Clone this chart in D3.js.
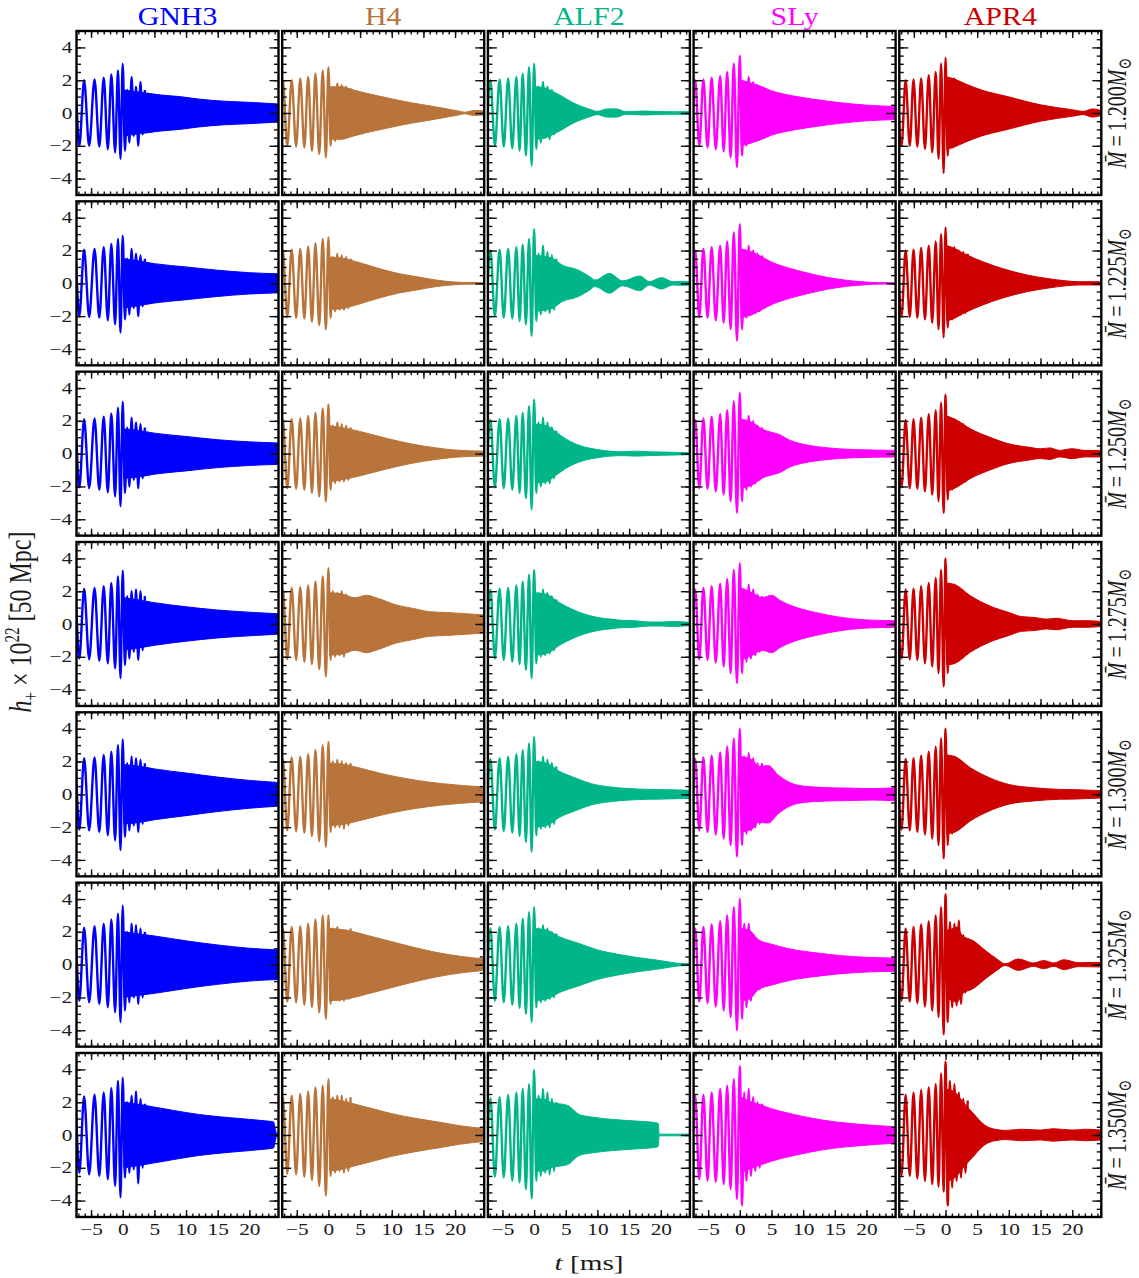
<!DOCTYPE html>
<html>
<head>
<meta charset="utf-8">
<script src="https://cdn.jsdelivr.net/npm/d3@7"></script>
<style>
  body { margin: 0; background: #fff; }
  svg { display: block; }
</style>
</head>
<body>
<svg id="chart" width="1139" height="1278"></svg>
<script>
// ---- Equations of state (columns) and binary masses (rows) ----
const eosNames  = ["GNH3", "H4", "ALF2", "SLy", "APR4"];
const eosColors = ["#0000ff", "#b8743a", "#00b688", "#ff00ff", "#cc0000"];
const massLabels = ["1.200", "1.225", "1.250", "1.275", "1.300", "1.325", "1.350"];

// Axis ticks
const xMajorTicks = [-5, 0, 5, 10, 15, 20];
const yMajorTicks = [-4, -2, 0, 2, 4];

// Post-merger spike times shared by every panel (ms after merger)
const spikeTimes = [0.35, 0.7, 1.05, 1.4, 1.75, 2.1, 2.45, 2.8, 3.15, 3.5];

// ---- GNH3 ----
const gnh3Times = [-8.3, -7.6, -6.85, -6.1, -5.3, -4.45, -3.7, -3.0, -2.35, -1.8, -1.2, -0.75, -0.35, 0];
const gnh3Inspiral = [
  [-2.0, 2.0, -2.0, 2.0, -2.0, 2.05, -2.05, 2.15, -2.2, 2.35, -2.4, 2.6, -2.8, 3.0],
  [-2.0, 2.0, -2.0, 2.05, -2.05, 2.1, -2.1, 2.2, -2.25, 2.4, -2.5, 2.7, -3.0, 2.9],
  [-2.05, 2.05, -2.05, 2.1, -2.1, 2.15, -2.2, 2.25, -2.35, 2.45, -2.6, 2.8, -3.2, 3.15],
  [-2.1, 2.1, -2.1, 2.15, -2.15, 2.2, -2.25, 2.3, -2.4, 2.5, -2.7, 2.9, -3.3, 3.25],
  [-2.15, 2.15, -2.15, 2.2, -2.2, 2.25, -2.3, 2.4, -2.5, 2.6, -2.8, 3.0, -3.4, 3.35],
  [-2.2, 2.2, -2.2, 2.25, -2.3, 2.35, -2.4, 2.5, -2.6, 2.75, -2.9, 3.1, -3.5, 3.6],
  [-2.3, 2.3, -2.3, 2.35, -2.4, 2.45, -2.5, 2.6, -2.7, 2.85, -3.1, 3.3, -3.8, 3.5]
];
const gnh3Spikes = [
  [-2.3, 1.4, -1.8, 2.2, -1.4, 1.6, -2.0, 1.9, -1.3, 1.4],
  [-2.2, 1.5, -1.9, 2.1, -1.5, 1.8, -2.0, 1.7, -1.4, 1.5],
  [-2.4, 1.6, -2.0, 2.2, -1.6, 1.9, -2.1, 1.8, -1.5, 1.6],
  [-2.5, 1.7, -2.1, 2.0, -1.7, 2.1, -2.2, 2.0, -1.6, 1.7],
  [-2.6, 1.9, -2.2, 2.3, -1.9, 2.2, -2.3, 2.1, -1.8, 1.9],
  [-2.8, 2.0, -2.3, 2.5, -2.0, 2.4, -2.4, 2.2, -2.0, 2.0],
  [-2.6, 2.0, -2.3, 2.4, -2.1, 2.65, -2.95, 2.2, -2.0, 1.9]
];
const gnh3Envelope = [
  [[0.2, 1.4], [2, 1.3], [4, 1.2], [6, 1.1], [9, 1.0], [12, 0.85], [16, 0.72], [20, 0.65], [24.6, 0.55]],
  [[0.2, 1.5], [2, 1.4], [5, 1.2], [10, 1.0], [15, 0.8], [20, 0.65], [24.6, 0.58]],
  [[0.2, 1.5], [2, 1.45], [5, 1.25], [10, 1.05], [15, 0.85], [20, 0.72], [24.6, 0.65]],
  [[0.2, 1.6], [2, 1.5], [5, 1.3], [10, 1.05], [15, 0.85], [20, 0.72], [24.6, 0.62]],
  [[0.2, 1.8], [2, 1.75], [5, 1.55], [10, 1.3], [15, 1.05], [20, 0.85], [24.6, 0.72]],
  [[0.2, 2.0], [2, 1.9], [5, 1.75], [10, 1.45], [15, 1.2], [20, 1.0], [24.6, 0.9]],
  [[0.2, 2.0], [2, 1.9], [5, 1.7], [8, 1.5], [12, 1.25], [17, 1.05], [22.8, 0.85], [23.8, 0.8], [24.3, 0.1], [24.6, 0.05]]
];

// ---- H4 ----
const h4Times = [-7.85, -7.2, -6.5, -5.8, -5.1, -4.45, -3.8, -3.2, -2.6, -2.05, -1.45, -0.9, -0.4, 0];
const h4Inspiral = [
  [-2.0, 2.0, -2.0, 2.0, -2.05, 2.1, -2.1, 2.2, -2.3, 2.4, -2.5, 2.6, -2.7, 2.8],
  [-2.0, 2.0, -2.05, 2.05, -2.1, 2.1, -2.15, 2.25, -2.35, 2.45, -2.55, 2.7, -2.8, 2.8],
  [-2.05, 2.05, -2.1, 2.1, -2.15, 2.15, -2.2, 2.3, -2.4, 2.5, -2.6, 2.75, -2.9, 3.0],
  [-2.1, 2.1, -2.15, 2.2, -2.2, 2.25, -2.3, 2.35, -2.45, 2.6, -2.75, 2.9, -3.2, 3.4],
  [-2.15, 2.15, -2.2, 2.25, -2.25, 2.3, -2.35, 2.45, -2.55, 2.7, -2.85, 3.0, -3.2, 3.2],
  [-2.2, 2.2, -2.25, 2.3, -2.3, 2.35, -2.45, 2.5, -2.6, 2.75, -2.9, 3.0, -3.3, 3.0],
  [-2.3, 2.3, -2.35, 2.4, -2.4, 2.5, -2.55, 2.65, -2.75, 2.9, -3.1, 3.0, -3.7, 3.4]
];
const h4Spikes = [
  [-2.0, 1.5, -1.7, 1.8, -1.6, 1.7, -1.5, 1.6, -1.4, 1.5],
  [-2.1, 1.6, -1.7, 1.8, -1.6, 1.7, -1.6, 1.6, -1.5, 1.5],
  [-2.2, 1.7, -1.8, 1.9, -1.7, 1.8, -1.7, 1.7, -1.6, 1.6],
  [-2.2, 2.0, -2.0, 1.9, -1.9, 2.0, -2.0, 1.8, -1.7, 1.6],
  [-2.3, 2.0, -2.0, 2.1, -2.0, 2.0, -2.1, 1.9, -1.9, 1.9],
  [-2.4, 2.2, -2.1, 2.3, -2.2, 2.1, -2.2, 2.1, -2.1, 2.2],
  [-2.5, 2.3, -2.3, 2.4, -2.2, 2.4, -2.3, 2.2, -2.2, 2.3]
];
const h4Envelope = [
  [[0.2, 1.6], [2, 1.6], [4, 1.4], [6, 1.2], [9, 0.95], [12, 0.7], [15, 0.5], [18, 0.3], [20.5, 0.12], [21.5, 0.05], [23, 0.15], [24.6, 0.12]],
  [[0.2, 1.6], [2, 1.55], [5, 1.25], [8, 0.9], [11, 0.6], [14, 0.4], [17, 0.2], [20, 0.08], [22, 0.05], [24.6, 0.05]],
  [[0.2, 1.7], [2, 1.6], [5, 1.35], [9, 0.95], [13, 0.6], [17, 0.35], [20, 0.22], [24.6, 0.15]],
  [[0.2, 1.9], [2, 1.85], [4.2, 1.6], [6, 1.75], [7.9, 1.55], [10.8, 1.15], [13.4, 0.95], [16, 0.75], [18.7, 0.7], [24.6, 0.55]],
  [[0.2, 1.9], [2, 1.85], [5, 1.6], [8, 1.3], [11, 1.05], [14, 0.85], [18, 0.65], [24.6, 0.45]],
  [[0.2, 2.2], [2, 2.15], [4, 2.0], [6, 1.8], [9, 1.5], [13, 1.1], [17, 0.75], [21, 0.5], [24.6, 0.35]],
  [[0.2, 2.2], [2, 2.1], [4, 1.9], [7, 1.6], [10, 1.3], [14, 1.0], [18, 0.75], [21, 0.55], [24.6, 0.4]]
];

// ---- ALF2 ----
const alf2Times = [-7.55, -6.9, -6.2, -5.45, -4.8, -4.1, -3.45, -2.8, -2.3, -1.8, -1.3, -0.8, -0.4, 0];
const alf2Inspiral = [
  [-2.0, 2.0, -2.0, 2.05, -2.05, 2.1, -2.15, 2.2, -2.3, 2.4, -2.6, 2.8, -3.2, 3.0],
  [-2.0, 2.0, -2.0, 2.05, -2.1, 2.1, -2.15, 2.2, -2.3, 2.35, -2.5, 2.7, -3.2, 3.3],
  [-2.05, 2.05, -2.05, 2.1, -2.1, 2.15, -2.2, 2.3, -2.4, 2.5, -2.7, 2.9, -3.4, 3.3],
  [-2.1, 2.1, -2.1, 2.15, -2.2, 2.2, -2.3, 2.35, -2.45, 2.6, -2.8, 3.0, -3.3, 3.3],
  [-2.15, 2.15, -2.15, 2.2, -2.25, 2.3, -2.35, 2.45, -2.55, 2.7, -2.9, 3.1, -3.5, 3.5],
  [-2.2, 2.2, -2.2, 2.3, -2.3, 2.35, -2.45, 2.5, -2.65, 2.8, -3.0, 3.2, -3.5, 3.5],
  [-2.5, 2.25, -2.55, 2.3, -2.6, 2.45, -2.8, 2.6, -2.9, 2.8, -3.3, 3.1, -3.85, 3.95]
];
const alf2Spikes = [
  [-2.2, 1.6, -1.8, 1.9, -1.5, 1.6, -1.6, 1.4, -1.3, 1.2],
  [-2.3, 1.8, -1.9, 2.3, -1.7, 1.9, -1.8, 1.7, -1.6, 1.5],
  [-2.4, 1.9, -2.0, 2.2, -1.8, 1.9, -1.8, 1.6, -1.5, 1.4],
  [-2.4, 1.9, -2.0, 2.1, -1.9, 1.9, -1.8, 1.7, -1.6, 1.5],
  [-2.5, 2.0, -2.1, 2.3, -2.0, 2.1, -2.0, 1.9, -1.8, 1.7],
  [-2.6, 2.2, -2.3, 2.4, -2.2, 2.2, -2.1, 2.0, -2.0, 1.9],
  [-2.8, 2.4, -2.5, 2.8, -2.3, 2.6, -2.4, 2.2, -2.2, 2.0]
];
const alf2Envelope = [
  [[0.2, 1.6], [1.5, 1.55], [3, 1.3], [4.5, 1.0], [6, 0.65], [7.5, 0.4], [9, 0.2], [10, 0.1], [11.5, 0.25], [13, 0.25], [14.5, 0.08], [16, 0.1], [17.5, 0.12], [19, 0.1], [21, 0.08], [24.6, 0.08]],
  [[0.2, 1.7], [1.5, 1.65], [3, 1.5], [4.5, 1.1], [6.7, 0.85], [8.8, 0.4], [9.6, 0.2], [11.9, 0.6], [14, 0.15], [16.7, 0.45], [18.2, 0.1], [20.1, 0.35], [21.9, 0.1], [23.5, 0.12], [24.6, 0.1]],
  [[0.2, 1.8], [2, 1.7], [3.5, 1.3], [5, 0.9], [6.5, 0.6], [8, 0.4], [10, 0.25], [12, 0.15], [14, 0.12], [16, 0.15], [18, 0.12], [20, 0.1], [24.6, 0.06]],
  [[0.2, 1.9], [2, 1.8], [4, 1.3], [6, 0.9], [8, 0.6], [10, 0.4], [12, 0.3], [14, 0.22], [16, 0.2], [18, 0.12], [20, 0.12], [22, 0.15], [24.6, 0.1]],
  [[0.2, 2.0], [2, 1.9], [4, 1.4], [6.5, 1.0], [9, 0.65], [12, 0.45], [15, 0.35], [18, 0.3], [21, 0.28], [24.6, 0.25]],
  [[0.2, 2.2], [2, 2.1], [4, 1.7], [7, 1.3], [10, 0.9], [13, 0.65], [16, 0.45], [19, 0.3], [21.5, 0.15], [23, 0.07], [24.6, 0.05]],
  [[0.2, 2.2], [1.5, 2.2], [2.6, 2.0], [5.3, 1.8], [7.1, 1.25], [9, 1.1], [12.4, 0.95], [16, 0.85], [19.2, 0.75], [19.6, 0.7], [19.75, 0.05], [24.6, 0.05]]
];

// ---- SLy ----
const slyTimes = [-7.7, -7.05, -6.4, -5.75, -5.1, -4.45, -3.8, -3.1, -2.55, -2.0, -1.45, -0.95, -0.45, 0];
const slyInspiral = [
  [-2.0, 2.0, -2.0, 2.05, -2.1, 2.15, -2.2, 2.25, -2.35, 2.5, -2.7, 3.0, -3.3, 3.5],
  [-2.0, 2.0, -2.05, 2.1, -2.1, 2.2, -2.25, 2.3, -2.4, 2.55, -2.8, 3.1, -3.5, 3.6],
  [-2.05, 2.05, -2.1, 2.15, -2.15, 2.25, -2.3, 2.4, -2.5, 2.65, -2.9, 3.2, -3.6, 3.7],
  [-2.1, 2.1, -2.15, 2.2, -2.2, 2.3, -2.35, 2.45, -2.6, 2.75, -3.0, 3.3, -3.6, 3.7],
  [-2.15, 2.15, -2.2, 2.25, -2.3, 2.35, -2.45, 2.55, -2.7, 2.9, -3.1, 3.4, -3.8, 4.0],
  [-2.2, 2.2, -2.25, 2.3, -2.35, 2.45, -2.55, 2.65, -2.8, 3.0, -3.2, 3.5, -4.0, 4.0],
  [-2.6, 2.4, -2.7, 2.45, -2.8, 2.6, -2.85, 2.8, -3.0, 3.0, -3.3, 3.4, -3.9, 4.2]
];
const slySpikes = [
  [-2.6, 1.8, -2.0, 2.2, -1.8, 1.9, -1.7, 1.7, -1.6, 1.6],
  [-2.8, 2.0, -2.1, 2.3, -1.9, 2.0, -1.8, 1.8, -1.7, 1.7],
  [-2.9, 2.0, -2.2, 2.3, -2.0, 2.0, -1.8, 1.7, -1.6, 1.6],
  [-3.0, 2.1, -2.3, 2.4, -2.1, 2.1, -1.9, 1.8, -1.7, 1.7],
  [-3.1, 2.3, -2.4, 2.5, -2.2, 2.2, -2.0, 1.9, -1.8, 1.9],
  [-3.3, 2.5, -2.6, 2.5, -2.2, 1.8, -1.6, 1.5, -1.5, 1.4],
  [-4.3, 2.6, -2.8, 2.8, -2.5, 2.3, -2.2, 2.0, -2.0, 1.9]
];
const slyEnvelope = [
  [[0.2, 2.0], [2, 1.8], [3.5, 1.6], [5, 1.35], [7, 1.15], [9, 1.0], [12, 0.82], [16, 0.62], [20, 0.48], [24.6, 0.4]],
  [[0.2, 2.1], [2, 1.9], [3.5, 1.6], [5, 1.3], [8, 0.9], [11, 0.6], [14, 0.35], [17, 0.18], [20, 0.08], [22, 0.04], [24.6, 0.04]],
  [[0.2, 2.1], [2, 1.9], [3.5, 1.5], [5, 1.3], [6, 1.2], [8, 0.8], [11, 0.5], [14, 0.35], [18, 0.25], [24.6, 0.2]],
  [[0.2, 2.2], [2, 1.9], [3.5, 1.6], [5, 1.75], [6.5, 1.4], [9, 1.0], [12, 0.7], [16, 0.4], [20, 0.25], [24.6, 0.2]],
  [[0.2, 2.3], [2, 2.1], [3, 1.7], [4.5, 1.75], [6, 1.2], [8, 0.7], [10, 0.5], [13, 0.42], [17, 0.38], [21, 0.35], [24.6, 0.4]],
  [[0.2, 2.2], [1.5, 2.1], [3, 1.5], [5, 1.25], [8, 0.95], [12, 0.72], [16, 0.55], [20, 0.45], [24.6, 0.4]],
  [[0.2, 2.3], [2, 2.0], [3.5, 1.8], [5, 1.6], [8, 1.3], [11, 1.05], [15, 0.8], [19, 0.65], [24.6, 0.5]]
];

// ---- APR4 ----
const apr4Times = [-7.6, -6.95, -6.3, -5.65, -5.05, -4.45, -3.85, -3.25, -2.65, -2.1, -1.55, -1.1, -0.7, -0.3, 0];
const apr4Inspiral = [
  [2.0, -2.0, 2.0, -2.0, 2.05, -2.05, 2.1, -2.2, 2.3, -2.4, 2.5, -2.8, 3.0, -3.65, 3.35],
  [2.0, -2.0, 2.0, -2.05, 2.05, -2.1, 2.15, -2.2, 2.3, -2.4, 2.55, -2.8, 3.0, -3.3, 3.4],
  [2.05, -2.05, 2.05, -2.1, 2.1, -2.15, 2.2, -2.3, 2.4, -2.5, 2.65, -2.9, 3.1, -3.6, 3.6],
  [2.1, -2.1, 2.1, -2.15, 2.15, -2.2, 2.3, -2.4, 2.5, -2.6, 2.8, -3.0, 3.3, -3.8, 4.0],
  [2.15, -2.15, 2.15, -2.2, 2.2, -2.3, 2.35, -2.45, 2.6, -2.7, 2.9, -3.1, 3.4, -3.9, 4.0],
  [2.2, -2.2, 2.2, -2.25, 2.3, -2.35, 2.45, -2.55, 2.65, -2.8, 3.0, -3.2, 3.5, -4.25, 4.3],
  [2.3, -2.45, 2.45, -2.5, 2.6, -2.65, 2.75, -2.8, 2.9, -3.0, 3.1, -3.15, 3.75, -3.45, 4.47]
];
const apr4Spikes = [
  [-2.6, 1.9, -2.1, 2.1, -1.9, 1.9, -1.8, 1.8, -1.7, 1.7],
  [-2.7, 2.0, -2.2, 2.2, -2.0, 2.0, -1.9, 1.9, -1.8, 1.8],
  [-2.8, 2.1, -2.2, 2.1, -2.0, 1.9, -1.8, 1.8, -1.7, 1.6],
  [-3.0, 2.4, -2.4, 2.4, -2.2, 2.0, -2.0, 1.9, -1.8, 1.7],
  [-3.1, 2.3, -2.4, 2.3, -2.2, 2.0, -1.9, 1.8, -1.7, 1.6],
  [-3.5, 2.6, -2.6, 2.5, -2.5, 2.7, -2.4, 1.8, -1.7, 1.6],
  [-4.3, 3.3, -3.2, 3.1, -2.8, 2.6, -2.6, 2.2, -2.3, 2.1]
];
const apr4Envelope = [
  [[0.2, 2.2], [1.2, 2.1], [3, 1.8], [5.7, 1.4], [9.8, 1.0], [15, 0.5], [20, 0.2], [21.8, 0.1], [23.2, 0.25], [24.6, 0.15]],
  [[0.2, 2.3], [1, 2.2], [3, 1.8], [6, 1.3], [9, 0.9], [13, 0.5], [16, 0.3], [19, 0.15], [21, 0.1], [24.6, 0.1]],
  [[0.2, 2.3], [1.5, 2.1], [4, 1.5], [7, 1.0], [10, 0.6], [13, 0.4], [15, 0.3], [16.5, 0.35], [18, 0.2], [20, 0.3], [22, 0.2], [24.6, 0.2]],
  [[0.2, 2.5], [1.5, 2.4], [4, 1.7], [7, 1.1], [10, 0.7], [12, 0.45], [14, 0.4], [16, 0.3], [17.5, 0.35], [20, 0.2], [22.5, 0.2], [24.6, 0.15]],
  [[0.2, 2.4], [1.5, 2.3], [4, 1.6], [7, 1.0], [10, 0.6], [14, 0.4], [18, 0.3], [21, 0.28], [24.6, 0.22]],
  [[0.2, 2.1], [1.2, 2.2], [1.8, 2.3], [2.6, 1.8], [4.4, 1.45], [6.5, 0.8], [8.1, 0.35], [9.4, 0.05], [11.5, 0.35], [13.9, 0.1], [15.5, 0.25], [17.1, 0.1], [18.7, 0.3], [21, 0.12], [24.6, 0.14]],
  [[0.2, 2.8], [1.5, 2.6], [2.8, 2.0], [4.3, 1.35], [6.2, 0.6], [7.8, 0.35], [9.5, 0.28], [12, 0.35], [15, 0.3], [17, 0.38], [20, 0.3], [22, 0.35], [24.6, 0.3]]
];

// Column table assembled from the arrays above
const eosSeries = [
  { times: gnh3Times, inspiral: gnh3Inspiral, spikes: gnh3Spikes, envelope: gnh3Envelope },
  { times: h4Times,   inspiral: h4Inspiral,   spikes: h4Spikes,   envelope: h4Envelope },
  { times: alf2Times, inspiral: alf2Inspiral, spikes: alf2Spikes, envelope: alf2Envelope },
  { times: slyTimes,  inspiral: slyInspiral,  spikes: slySpikes,  envelope: slyEnvelope },
  { times: apr4Times, inspiral: apr4Inspiral, spikes: apr4Spikes, envelope: apr4Envelope }
];

// ---- Layout ----
const layout = { left: 76.5, top: 31, w: 202, h: 164, stepX: 205.7, stepY: 170.33 };
const xDomain = [-7.3, 24.6];
const yDomain = [-5, 5];
const stretch = 1.33;            // horizontal widening of the serif lettering
const serif = "'Liberation Serif', 'DejaVu Serif', serif";
const inkColor = "#1a1a1a";

const svg = d3.select("#chart");
svg.append("rect").attr("width", 1139).attr("height", 1278).attr("fill", "#fff");
const defs = svg.append("defs");

const xMinorTicks = d3.range(-7, 25, 1);
const yMinorTicks = d3.range(-4.5, 5, 0.5);
const fmt = d3.format("d");

function drawAxis(parent, axis, transform, labelled) {
  const g = parent.append("g").attr("transform", transform).call(axis);
  g.select(".domain").remove();
  g.attr("font-size", null).attr("font-family", null);
  g.selectAll(".tick line").attr("stroke", "#111").attr("stroke-width", 1.4);
  if (!labelled) g.selectAll(".tick text").remove();
  return g;
}

eosNames.forEach((name, c) => {
  const series = eosSeries[c];
  const color = eosColors[c];
  const px = layout.left + c * layout.stepX;

  // column title
  svg.append("text")
    .attr("transform", `translate(${px + layout.w / 2},25) scale(1.15,1)`)
    .attr("text-anchor", "middle")
    .attr("font-family", serif)
    .attr("font-size", 26)
    .attr("fill", color)
    .text(name);

  massLabels.forEach((mass, r) => {
    const py = layout.top + r * layout.stepY;
    const x = d3.scaleLinear().domain(xDomain).range([px, px + layout.w]);
    const y = d3.scaleLinear().domain(yDomain).range([py + layout.h, py]);

    const clipId = `clip-${c}-${r}`;
    defs.append("clipPath").attr("id", clipId)
      .append("rect").attr("x", px).attr("y", py).attr("width", layout.w).attr("height", layout.h);

    const plot = svg.append("g").attr("clip-path", `url(#${clipId})`);

    // dense post-merger oscillation, drawn as its envelope
    const area = d3.area()
      .x(d => x(d[0]))
      .y0(d => y(-d[1]))
      .y1(d => y(d[1]))
      .curve(d3.curveMonotoneX);
    plot.append("path")
      .datum(series.envelope[r])
      .attr("d", area)
      .attr("fill", color)
      .attr("stroke", color)
      .attr("stroke-width", 1);

    // resolved inspiral cycles and the first post-merger spikes
    const pts = series.times.map((t, i) => [t, series.inspiral[r][i]])
      .concat(spikeTimes.map((t, i) => [t, series.spikes[r][i]]));
    const line = d3.line()
      .x(d => x(d[0]))
      .y(d => y(d[1]))
      .curve(d3.curveMonotoneX);
    plot.append("path")
      .datum(pts)
      .attr("d", line)
      .attr("fill", "none")
      .attr("stroke", color)
      .attr("stroke-width", 2.4)
      .attr("stroke-linejoin", "round");

    // ticks on all four sides, pointing inwards
    const axes = svg.append("g");
    const bottom = `translate(0,${py + layout.h})`, top = `translate(0,${py})`;
    const left = `translate(${px},0)`, right = `translate(${px + layout.w},0)`;
    drawAxis(axes, d3.axisBottom(x).tickValues(xMinorTicks).tickSize(-3.5), bottom, false);
    drawAxis(axes, d3.axisTop(x).tickValues(xMinorTicks).tickSize(-3.5), top, false);
    drawAxis(axes, d3.axisLeft(y).tickValues(yMinorTicks).tickSize(-4.5), left, false);
    drawAxis(axes, d3.axisRight(y).tickValues(yMinorTicks).tickSize(-4.5), right, false);
    drawAxis(axes, d3.axisTop(x).tickValues(xMajorTicks).tickSize(-7), top, false);
    drawAxis(axes, d3.axisRight(y).tickValues(yMajorTicks).tickSize(-9), right, false);

    const xb = drawAxis(axes, d3.axisBottom(x).tickValues(xMajorTicks).tickSize(-7).tickPadding(7).tickFormat(fmt), bottom, r === massLabels.length - 1);
    xb.selectAll(".tick text")
      .attr("font-family", serif).attr("font-size", 16).attr("fill", inkColor)
      .attr("transform", `scale(${stretch},1)`);

    const yl = drawAxis(axes, d3.axisLeft(y).tickValues(yMajorTicks).tickSize(-9).tickPadding(3.2).tickFormat(fmt), left, c === 0);
    yl.selectAll(".tick text")
      .attr("font-family", serif).attr("font-size", 16).attr("fill", inkColor)
      .attr("transform", `scale(${stretch},1)`);

    // frame
    svg.append("rect")
      .attr("x", px).attr("y", py).attr("width", layout.w).attr("height", layout.h)
      .attr("fill", "none").attr("stroke", "#000").attr("stroke-width", 2.4);

    // mass label on the right of each row
    if (c === eosNames.length - 1) {
      const lbl = svg.append("text")
        .attr("transform", `translate(1126,${py + layout.h / 2}) scale(${stretch},1) rotate(-90)`)
        .attr("text-anchor", "middle")
        .attr("font-family", serif)
        .attr("font-size", 20)
        .attr("fill", inkColor);
      lbl.append("tspan").attr("font-style", "italic").text("M\u0304");
      lbl.append("tspan").text(" =\u2009" + mass);
      lbl.append("tspan").attr("font-style", "italic").text("M");
      lbl.append("tspan").attr("font-size", 14).attr("dy", 4).text("\u2299");
    }
  });
});

// axis titles
const yTitle = svg.append("text")
  .attr("transform", `translate(31,622) scale(${stretch},1) rotate(-90)`)
  .attr("text-anchor", "middle")
  .attr("font-family", serif)
  .attr("font-size", 24)
  .attr("fill", inkColor);
yTitle.append("tspan").attr("font-style", "italic").text("h");
yTitle.append("tspan").attr("font-size", 15).attr("dy", 5).text("+");
yTitle.append("tspan").attr("dy", -5).text(" \u00d7 10");
yTitle.append("tspan").attr("font-size", 15).attr("dy", -9).text("22");
yTitle.append("tspan").attr("dy", 9).text(" [50 Mpc]");

const xTitle = svg.append("text")
  .attr("transform", `translate(589,1270) scale(${stretch},1)`)
  .attr("text-anchor", "middle")
  .attr("font-family", serif)
  .attr("font-size", 22)
  .attr("fill", inkColor);
xTitle.append("tspan").attr("font-style", "italic").text("t");
xTitle.append("tspan").text(" [ms]");
</script>
</body>
</html>
